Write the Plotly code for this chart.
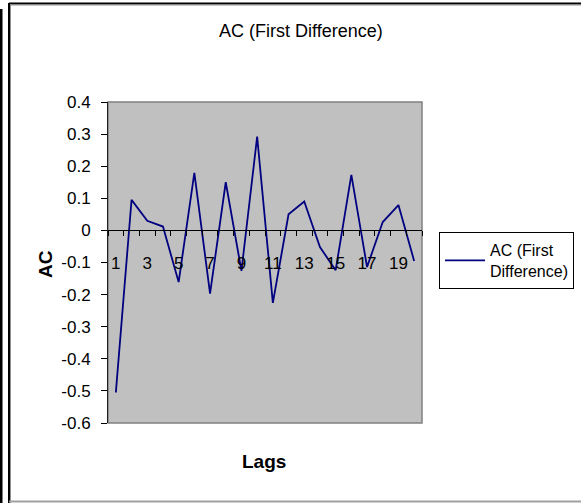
import plotly.graph_objects as go

lags = list(range(1, 21))
ac_values = [-0.505, 0.095, 0.030, 0.012, -0.161, 0.179, -0.197, 0.150, -0.126, 0.292,
             -0.226, 0.050, 0.090, -0.052, -0.124, 0.173, -0.114, 0.026, 0.079, -0.095]
y_ticks = [0.4, 0.3, 0.2, 0.1, 0.0, -0.1, -0.2, -0.3, -0.4, -0.5, -0.6]
title_text = "AC (First Difference)"
series_name = "AC (First<br>Difference)"
x_title = "Lags"
y_title = "AC"

W, H = 581, 503
ML, MR, MT, MB = 108, 159, 102, 80
PW, PH = W - ML - MR, H - MT - MB

def px(x):
    return (x - ML) / PW

def py(y):
    return (H - MB - y) / PH

FONT = "Liberation Sans, Arial, sans-serif"

cats = [str(v) for v in lags]
ticktext = [c if i % 2 == 0 else "" for i, c in enumerate(cats)]

fig = go.Figure()
fig.add_trace(go.Scatter(
    x=cats, y=ac_values, mode="lines", name=series_name,
    line=dict(color="#000080", width=1.8),
))

ymin, ymax = min(y_ticks), max(y_ticks)
zero_frac = (0 - ymin) / (ymax - ymin)

fig.update_layout(
    width=W, height=H,
    margin=dict(l=ML, r=MR, t=MT, b=MB, pad=0, autoexpand=False),
    paper_bgcolor="white", plot_bgcolor="#C0C0C0",
    font=dict(family=FONT, size=16, color="black"),
    showlegend=True,
    legend=dict(
        x=px(439), y=py(232), xanchor="left", yanchor="top",
        bordercolor="black", borderwidth=1, bgcolor="white",
        font=dict(family=FONT, size=16), itemwidth=40,
    ),
    xaxis=dict(
        type="category", tickvals=cats, ticktext=ticktext,
        tickson="boundaries", ticks="outside", ticklen=5, tickcolor="black",
        showline=True, linecolor="black", linewidth=1,
        showgrid=False, zeroline=False,
        anchor="free", position=zero_frac,
        tickangle=0,
        ticklabelstandoff=17,
        tickfont=dict(family=FONT, size=17),
        range=[-0.5, len(cats) - 0.5],
    ),
    yaxis=dict(
        range=[ymin, ymax], tickvals=y_ticks,
        ticktext=[f"{v:g}" for v in y_ticks],
        ticks="outside", ticklen=6, tickcolor="black",
        showline=True, linecolor="#202020", linewidth=1,
        showgrid=False, zeroline=False,
        ticklabelstandoff=7,
        tickfont=dict(family=FONT, size=17),
    ),
)

# plot area border (gray)
fig.add_shape(type="rect", xref="paper", yref="paper", x0=0, x1=1, y0=0, y1=1,
              line=dict(color="#808080", width=1.5), fillcolor="rgba(0,0,0,0)", layer="below")

# outer chart frame
frame = [
    dict(x0=px(1), x1=px(1), y0=py(9), y1=py(H), color="black", width=3),
    dict(x0=px(9), x1=px(W + 2), y0=py(3.5), y1=py(3.5), color="black", width=2),
    dict(x0=px(10), x1=px(W + 2), y0=py(5), y1=py(5), color="#909090", width=1),
    dict(x0=px(9), x1=px(9), y0=py(3), y1=py(H), color="black", width=2),
    dict(x0=px(10.5), x1=px(10.5), y0=py(5), y1=py(H), color="#909090", width=1),
    dict(x0=px(9), x1=px(W + 2), y0=py(501.5), y1=py(501.5), color="#A0A0A0", width=2),
]
for f in frame:
    fig.add_shape(type="line", xref="paper", yref="paper",
                  x0=f["x0"], x1=f["x1"], y0=f["y0"], y1=f["y1"],
                  line=dict(color=f["color"], width=f["width"]))

fig.add_annotation(text=title_text, xref="paper", yref="paper", x=px(301), y=py(31),
                   xanchor="center", yanchor="middle", showarrow=False,
                   font=dict(family=FONT, size=18))
fig.add_annotation(text=f"<b>{x_title}</b>", xref="paper", yref="paper", x=px(264), y=py(462),
                   xanchor="center", yanchor="middle", showarrow=False,
                   font=dict(family=FONT, size=19))
fig.add_annotation(text=f"<b>{y_title}</b>", xref="paper", yref="paper", x=px(45), y=py(264),
                   xanchor="center", yanchor="middle", showarrow=False, textangle=-90,
                   font=dict(family=FONT, size=19))

fig.write_html("out.html")
